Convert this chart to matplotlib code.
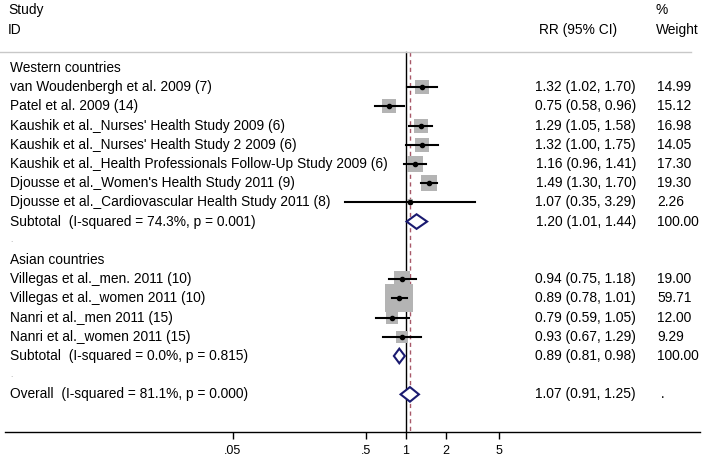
import numpy as np
import matplotlib.pyplot as plt
import matplotlib.transforms as mtransforms
from matplotlib.patches import Polygon

plt.rcParams['font.family'] = ['Liberation Sans', 'DejaVu Sans']

# Western countries
west_names = ['van Woudenbergh et al. 2009 (7)', 'Patel et al. 2009 (14)',
              "Kaushik et al._Nurses' Health Study 2009 (6)",
              "Kaushik et al._Nurses' Health Study 2 2009 (6)",
              'Kaushik et al._Health Professionals Follow-Up Study 2009 (6)',
              "Djousse et al._Women's Health Study 2011 (9)",
              'Djousse et al._Cardiovascular Health Study 2011 (8)']
west_rr = [1.32, 0.75, 1.29, 1.32, 1.16, 1.49, 1.07]
west_lo = [1.02, 0.58, 1.05, 1.00, 0.96, 1.30, 0.35]
west_hi = [1.70, 0.96, 1.58, 1.75, 1.41, 1.70, 3.29]
west_wt = [14.99, 15.12, 16.98, 14.05, 17.30, 19.30, 2.26]
west_sub = [1.20, 1.01, 1.44]
west_het = 'Subtotal  (I-squared = 74.3%, p = 0.001)'

# Asian countries
asia_names = ['Villegas et al._men. 2011 (10)', 'Villegas et al._women 2011 (10)',
              'Nanri et al._men 2011 (15)', 'Nanri et al._women 2011 (15)']
asia_rr = [0.94, 0.89, 0.79, 0.93]
asia_lo = [0.75, 0.78, 0.59, 0.67]
asia_hi = [1.18, 1.01, 1.05, 1.29]
asia_wt = [19.00, 59.71, 12.00, 9.29]
asia_sub = [0.89, 0.81, 0.98]
asia_het = 'Subtotal  (I-squared = 0.0%, p = 0.815)'

overall = [1.07, 0.91, 1.25]
overall_het = 'Overall  (I-squared = 81.1%, p = 0.000)'

xticks = [0.05, 0.5, 1, 2, 5]
xtick_labels = ['.05', '.5', '1', '2', '5']

fs = 9.9
fig = plt.figure(figsize=(7.04, 4.62), dpi=100)
ax = fig.add_axes([5 / 704, 30 / 462, 695 / 704, 432 / 462])
ax.set_xscale('log')
ax.set_xlim(10 ** -3.015, 10 ** 2.21)
ax.set_ylim(18.96, -3.54)
trans = mtransforms.blended_transform_factory(fig.transFigure, ax.transData)

x_lab = 10 / 704
x_rr = 636 / 704
x_wt = 657 / 704
navy = '#1a1a70'
top = -0.83


def ci_text(v):
    return '%.2f (%.2f, %.2f)' % (v[0], v[1], v[2])


def draw_study(row, name, rr, lo, hi, wt):
    side = 28 * np.sqrt(wt / 59.71) * 0.72
    ax.scatter([rr], [row], marker='s', s=side ** 2, color='#b4b4b4', lw=0, zorder=2)
    ax.plot([lo, hi], [row, row], color='black', lw=1.5, zorder=3)
    ax.plot([rr], [row], 'o', color='black', ms=3, zorder=4)
    ax.text(x_lab, row, name, transform=trans, va='center', fontsize=fs)
    ax.text(x_rr, row, ci_text([rr, lo, hi]), transform=trans, va='center', ha='right', fontsize=fs)
    ax.text(x_wt, row, '%.2f' % wt, transform=trans, va='center', fontsize=fs)


def draw_diamond(row, v, label, wt_text):
    h = 0.38
    ax.add_patch(Polygon([(v[1], row), (v[0], row - h), (v[2], row), (v[0], row + h)],
                         closed=True, facecolor='white', edgecolor=navy, lw=1.5, zorder=5))
    ax.text(x_lab, row, label, transform=trans, va='center', fontsize=fs)
    ax.text(x_rr, row, ci_text(v), transform=trans, va='center', ha='right', fontsize=fs)
    ax.text(x_wt, row, wt_text, transform=trans, va='center', fontsize=fs)


# header
ax.text(8 / 704, -3, 'Study', transform=trans, va='center', fontsize=fs)
ax.text(8 / 704, -2, 'ID', transform=trans, va='center', fontsize=fs)
ax.text(617 / 704, -2, 'RR (95% CI)', transform=trans, va='center', ha='right', fontsize=fs)
ax.text(656 / 704, -3, '%', transform=trans, va='center', fontsize=fs)
ax.text(656 / 704, -2, 'Weight', transform=trans, va='center', fontsize=fs)
ax.plot([0, 691 / 704], [top, top], transform=trans, color='#c8c8c8', lw=1, clip_on=False)

row = 0
ax.text(x_lab, row, 'Western countries', transform=trans, va='center', fontsize=fs)
for i in range(len(west_names)):
    row += 1
    draw_study(row, west_names[i], west_rr[i], west_lo[i], west_hi[i], west_wt[i])
row += 1
draw_diamond(row, west_sub, west_het, '100.00')
row += 1
ax.text(x_lab, row, '.', transform=trans, va='center', fontsize=6, color='#999999')
row += 1
ax.text(x_lab, row, 'Asian countries', transform=trans, va='center', fontsize=fs)
for i in range(len(asia_names)):
    row += 1
    draw_study(row, asia_names[i], asia_rr[i], asia_lo[i], asia_hi[i], asia_wt[i])
row += 1
draw_diamond(row, asia_sub, asia_het, '100.00')
row += 1
ax.text(x_lab, row, '.', transform=trans, va='center', fontsize=6, color='#999999')
row += 1
draw_diamond(row, overall, overall_het, ' .')

# reference lines
ax.plot([1, 1], [top, 18.96], color='black', lw=1, zorder=1)
ax.plot([overall[0], overall[0]], [top, 18.96], color='#a85868', lw=1,
        dashes=(3, 2.5), zorder=1)

for s in ['left', 'right', 'top']:
    ax.spines[s].set_visible(False)
ax.spines['bottom'].set_linewidth(1)
ax.set_yticks([])
ax.set_xticks(xticks)
ax.set_xticklabels(xtick_labels)
ax.minorticks_off()
ax.tick_params(axis='x', length=5, width=1, labelsize=9, pad=4)

fig.savefig('out.png', dpi=100)
